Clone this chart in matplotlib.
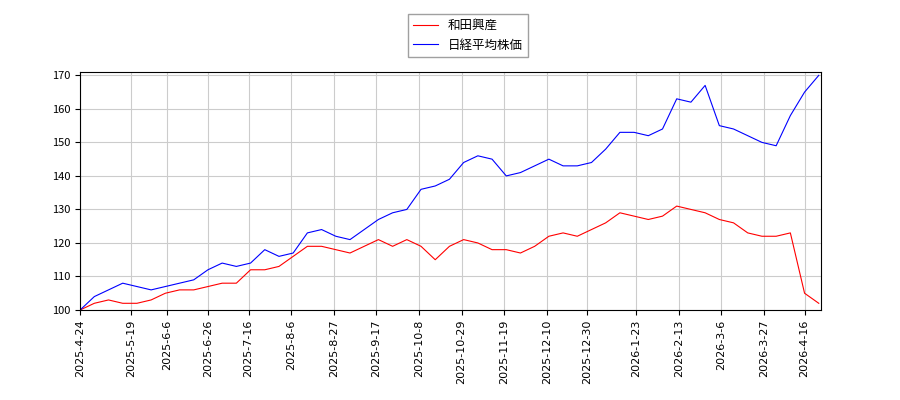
import matplotlib
matplotlib.use("Agg")
import matplotlib.pyplot as plt
import pandas as pd

plt.rcParams['font.family'] = ['Noto Sans CJK JP', 'DejaVu Sans']

dates = pd.date_range("2025-04-24", periods=53, freq="7D")
nikkei = [100,104,106,108,107,106,107,108,109,112,114,113,114,118,116,117,123,124,122,121,
          124,127,129,130,136,137,139,144,146,145,140,141,143,145,143,143,144,148,153,153,
          152,154,163,162,167,155,154,152,150,149,158,165,170]
wada = [100,102,103,102,102,103,105,106,106,107,108,108,112,112,113,116,119,119,118,117,
        119,121,119,121,119,115,119,121,120,118,118,117,119,122,123,122,124,126,129,128,
        127,128,131,130,129,127,126,123,122,122,123,105,102]
tick_labels = ["2025-4-24","2025-5-19","2025-6-6","2025-6-26","2025-7-16","2025-8-6","2025-8-27",
               "2025-9-17","2025-10-8","2025-10-29","2025-11-19","2025-12-10","2025-12-30",
               "2026-1-23","2026-2-13","2026-3-6","2026-3-27","2026-4-16"]

fig = plt.figure(figsize=(9, 4), dpi=100)
ax = fig.add_axes([0.089, 0.225, 0.823, 0.595])
l1, = ax.plot(dates, wada, color="red", lw=0.8, label="和田興産")
l2, = ax.plot(dates, nikkei, color="blue", lw=0.8, label="日経平均株価")
ax.set_ylim(100, 171)
ax.set_xlim(dates[0], pd.Timestamp("2026-04-24"))
ax.set_yticks(range(100, 171, 10))
ax.set_xticks([pd.Timestamp(t) for t in tick_labels])
ax.set_xticklabels(tick_labels, rotation=90, fontsize=8, family="DejaVu Sans")
ax.tick_params(axis='y', labelsize=8)
ax.grid(True, color="#cccccc", lw=0.8)
fig.legend(handles=[l1, l2], loc="upper center", bbox_to_anchor=(0.52, 0.98), fontsize=9,
           fancybox=False, edgecolor="#888888")
fig.savefig("out.png")
